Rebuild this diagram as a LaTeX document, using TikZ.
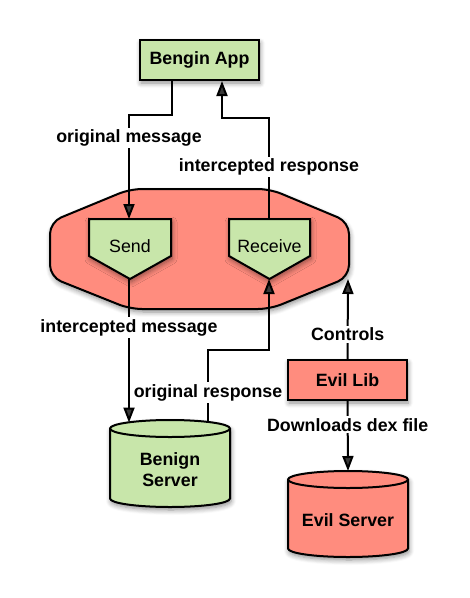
\documentclass[tikz,border=0pt]{standalone}
\usepackage{fontspec}
\setmainfont{Liberation Sans}
\usetikzlibrary{arrows.meta,shadows.blur,calc}
\definecolor{gfill}{HTML}{C8E6AA}
\definecolor{rfill}{HTML}{FF8C7E}
\begin{document}
\begin{tikzpicture}[x=1pt,y=-1pt,
  shd/.style={blur shadow={shadow xshift=1pt,shadow yshift=-3pt,shadow blur steps=6,shadow blur radius=5pt,shadow opacity=45}},
  outl/.style={draw=black,line width=2pt,line join=miter},
  boxg/.style={outl,fill=gfill,shd,minimum width=119pt,minimum height=40pt,inner sep=0pt,font=\bfseries},
  boxr/.style={outl,fill=rfill,shd,minimum width=119pt,minimum height=40pt,inner sep=0pt,font=\bfseries},
  txt/.style={inner sep=0pt,align=center},
  lbl/.style={fill=white,inner sep=2pt,font=\bfseries},
  arr/.style={line width=2pt,-{Triangle[length=15pt,width=11pt]}},
  every node/.style={font=\fontsize{17.8}{21}\selectfont}
]
\useasboundingbox (0,0) rectangle (470,598);

% Bengin App
\node[boxg,font=\fontsize{17.8}{21}\selectfont\bfseries] (app) at (199.5,60) {Bengin App};

% big intercepting shape
\path[outl,fill=rfill,shd,rounded corners=12pt]
  (130,189) -- (270,189) -- (349,222) -- (349,277) -- (270,309) -- (130,309) -- (50,277) -- (50,222) -- cycle;
\coordinate (hook) at (348,279);

% Send
\path[outl,fill=gfill,shd] (89,219) -- (171,219) -- (171,256) -- (130,279) -- (89,256) -- cycle;
\node[txt] (send) at (130,246) {Send};
\coordinate (sendtop) at (129,219);
\coordinate (sendtip) at (129,279);

% Receive
\path[outl,fill=gfill,shd] (229,219) -- (310,219) -- (310,256) -- (269.5,279) -- (229,256) -- cycle;
\node[txt] (recv) at (269.5,246) {Receive};
\coordinate (recvtop) at (269,219);
\coordinate (recvtip) at (269,279);

% Benign Server cylinder
\path[outl,fill=gfill,shd] (110,428.5) -- (110,498.5) arc[start angle=180,end angle=360,x radius=60pt,y radius=8.5pt]
  -- (230,428.5) arc[start angle=0,end angle=180,x radius=60pt,y radius=8.5pt] -- cycle;
\draw[line width=2pt] (110,428.5) arc[start angle=180,end angle=360,x radius=60pt,y radius=8.5pt];
\node[txt,font=\fontsize{17.8}{21}\selectfont\bfseries] (bs) at (170,469.5) {Benign\\Server};
\coordinate (bstop1) at (129,422.5);
\coordinate (bstop2) at (208,422);

% Evil Lib
\node[boxr,font=\fontsize{17.8}{21}\selectfont\bfseries] (lib) at (347.5,380) {Evil Lib};

% Evil Server cylinder
\path[outl,fill=rfill,shd] (288,479.5) -- (288,548.5) arc[start angle=180,end angle=360,x radius=60pt,y radius=8.5pt]
  -- (408,479.5) arc[start angle=0,end angle=180,x radius=60pt,y radius=8.5pt] -- cycle;
\draw[line width=2pt] (288,479.5) arc[start angle=180,end angle=360,x radius=60pt,y radius=8.5pt];
\node[txt,font=\fontsize{17.8}{21}\selectfont\bfseries] (es) at (348,520) {Evil Server};
\coordinate (estop) at (348,471);

% connectors
\draw[arr] ([xshift=-27.5pt]app.south) -- (172,115) -- (sendtop |- 0,115)
  -- node[lbl,pos=0.22,font=\fontsize{17.8}{21}\selectfont\bfseries]{original message} (sendtop);
\draw[arr] (recvtop) -- node[lbl,pos=0.515,font=\fontsize{17.8}{21}\selectfont\bfseries]{intercepted response} (recvtop |- 0,118)
  -| ([xshift=22.5pt]app.south);
\draw[arr] (sendtip) -- node[lbl,pos=0.34,font=\fontsize{17.8}{21}\selectfont\bfseries]{intercepted message} (bstop1);
\draw[arr] (bstop2) -- node[lbl,pos=0.41,font=\fontsize{17.8}{21}\selectfont\bfseries]{original response} (bstop2 |- 0,350)
  -| (recvtip);
\draw[arr] (lib.north) -- node[lbl,pos=0.31,font=\fontsize{17.8}{21}\selectfont\bfseries]{Controls} (hook);
\draw[arr] (lib.south) -- node[lbl,pos=0.34,font=\fontsize{17.8}{21}\selectfont\bfseries]{Downloads dex file} (estop);
\end{tikzpicture}
\end{document}
